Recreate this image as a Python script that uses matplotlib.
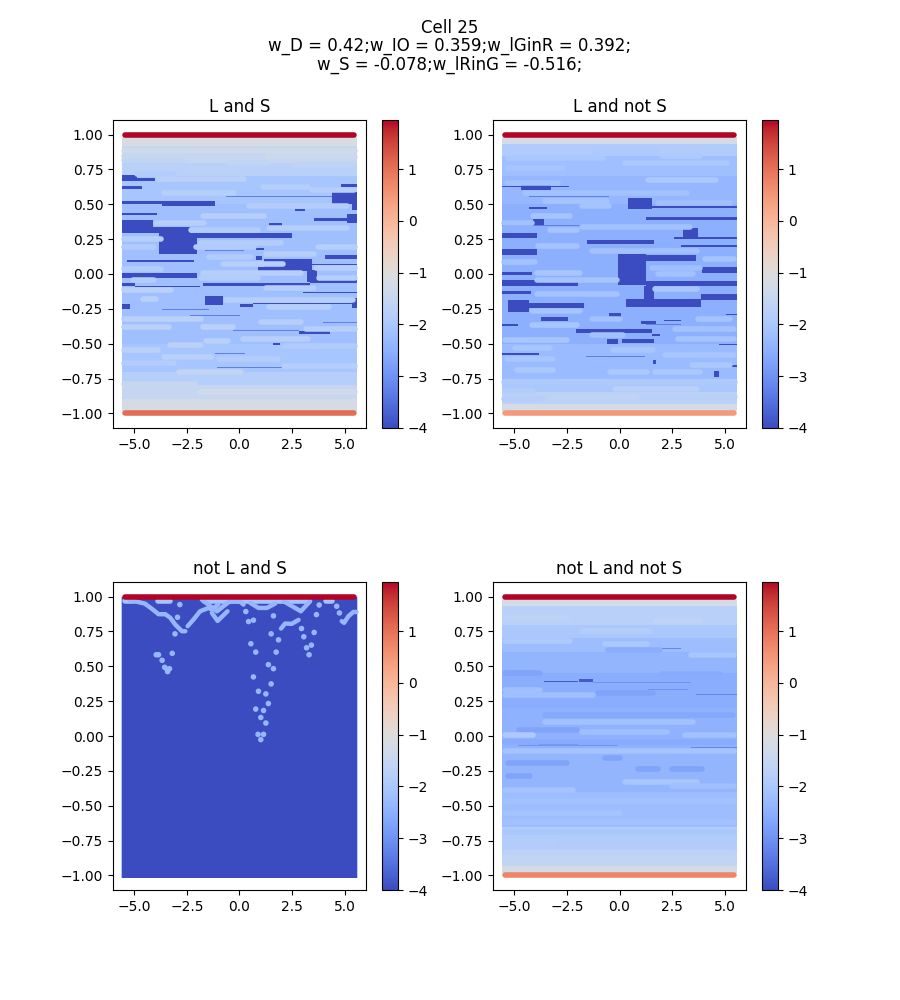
import numpy as np
import matplotlib
matplotlib.use("Agg")
import matplotlib.pyplot as plt
from matplotlib.cm import ScalarMappable
from matplotlib.colors import Normalize

# Values
title = "Cell 25\nw_D = 0.42;w_IO = 0.359;w_lGinR = 0.392;\nw_S = -0.078;w_lRinG = -0.516;"
panel_titles = ["L and S", "L and not S", "not L and S", "not L and not S"]
vmin, vmax = -4, 1.95
top_value = 1.93
bottom_values = [1.05, 0.46, -4, 0.76]
x_ticks = [-5.0, -2.5, 0.0, 2.5, 5.0]
y_ticks = [-1.0, -0.75, -0.5, -0.25, 0.0, 0.25, 0.5, 0.75, 1.0]
cbar_ticks = [-4, -3, -2, -1, 0, 1]

# background rows: y_high, y_low, value
p1_rows = [(0.98, 0.92, -1.15), (0.92, 0.8, -1.5), (0.8, 0.7, -1.75), (0.7, 0.5, -2.05), (0.5, -0.5, -2.2),
           (-0.5, -0.7, -2.05), (-0.7, -0.8, -1.8), (-0.8, -0.9, -1.5), (-0.9, -0.98, -1.2)]
p2_rows = [(0.98, 0.93, -1.25), (0.93, 0.85, -1.9), (0.85, 0.7, -2.2), (0.7, 0.5, -2.35), (0.5, -0.5, -2.5),
           (-0.5, -0.75, -2.3), (-0.75, -0.85, -2.0), (-0.85, -0.93, -1.7), (-0.93, -0.98, -1.25)]
p3_rows = [(1.0, -1.02, -4)]
p4_rows = [(0.98, 0.93, -1.25), (0.93, 0.8, -1.75), (0.8, 0.7, -2.0), (0.7, 0.6, -2.25), (0.6, 0.45, -2.4),
           (0.45, 0.2, -2.55), (0.2, -0.1, -2.45), (-0.1, -0.4, -2.4), (-0.4, -0.65, -2.25),
           (-0.65, -0.85, -1.85), (-0.85, -0.93, -1.6), (-0.93, -0.98, -1.25)]

# solid low areas: x0, x1, y_high, y_low
p1_dark = [(-5.58, -4.87, 0.71, 0.669), (-5.58, -4.03, 0.686, 0.669), (-5.58, -4.63, 0.629, 0.607),
           (4.8, 5.59, 0.648, 0.624), (4.38, 5.59, 0.588, 0.499), (5.32, 5.59, 0.499, 0.459),
           (-5.58, -3.68, 0.523, 0.499), (-3.68, -1.15, 0.526, 0.487), (-5.58, -3.92, 0.437, 0.423),
           (-5.58, -4.08, 0.387, 0.291), (-5.58, -2.34, 0.339, 0.291), (-3.84, -2.02, 0.291, 0.14),
           (-2.34, 2.48, 0.296, 0.255), (3.51, 5.59, 0.399, 0.38), (5.09, 5.59, 0.428, 0.363),
           (1.42, 2.01, 0.368, 0.344), (2.64, 3.11, 0.468, 0.454), (0.77, 1.14, 0.186, 0.171),
           (0.77, 1.06, 0.126, 0.104), (1.17, 3.43, 0.107, 0.051), (0.9, 3.43, 0.051, 0.023),
           (3.19, 3.66, 0.028, -0.056), (-1.71, 3.35, -0.063, -0.087), (3.35, 5.59, -0.044, -0.063),
           (4.06, 5.59, 0.135, 0.111), (3.43, 5.59, 0.075, 0.063), (-5.34, -2.18, 0.097, 0.085),
           (-5.58, -2.02, 0.008, -0.028), (-5.58, -4.94, -0.063, -0.087), (-4.94, -1.86, -0.083, -0.092),
           (3.03, 5.59, -0.126, -0.138), (-1.63, -0.76, -0.159, -0.219), (0.03, 0.66, -0.212, -0.236),
           (0.66, 5.59, -0.207, -0.217), (5.32, 5.59, -0.171, -0.243), (-5.58, -5.18, -0.214, -0.253),
           (2.8, 4.27, -0.408, -0.43), (1.61, 1.93, -0.497, -0.511)]
p2_dark = [(-4.68, -3.25, 0.638, 0.6), (-5.59, -2.39, 0.633, 0.624), (-4.28, -3.46, 0.478, 0.466),
           (0.38, 1.56, 0.543, 0.466), (1.56, 5.55, 0.487, 0.475), (1.25, 5.55, 0.411, 0.387),
           (-4.12, -3.57, 0.394, 0.344), (-5.59, -3.89, 0.296, 0.255), (-1.52, 1.64, 0.243, 0.214),
           (2.99, 3.7, 0.327, 0.267), (2.59, 5.55, 0.267, 0.253), (2.91, 5.55, 0.205, 0.193),
           (-5.59, -3.93, 0.176, 0.135), (-0.09, 1.25, 0.14, -0.08), (1.25, 3.62, 0.135, 0.095),
           (3.93, 5.55, 0.051, 0.004), (-5.59, -4.15, 0.016, -0.008), (-5.59, -1.99, -0.044, -0.085),
           (1.25, 5.55, -0.049, -0.085), (-5.59, -4.2, -0.123, -0.145), (1.17, 1.64, -0.085, -0.176),
           (0.3, 3.85, -0.176, -0.236), (3.85, 5.55, -0.145, -0.183), (-4.91, -1.67, -0.207, -0.243),
           (-5.31, -4.28, -0.188, -0.272), (-3.73, -2.46, -0.305, -0.334), (-0.49, 0.06, -0.279, -0.305),
           (1.01, 1.72, -0.339, -0.358), (2.12, 2.94, -0.327, -0.339), (5.07, 5.55, -0.286, -0.296),
           (-5.59, -4.83, -0.356, -0.372), (-2.07, 1.56, -0.396, -0.425), (1.56, 1.93, -0.428, -0.447),
           (-0.57, -0.09, -0.468, -0.504), (0.14, 1.64, -0.468, -0.495), (-5.59, -3.81, -0.569, -0.578),
           (4.72, 5.55, -0.499, -0.511), (1.6, 1.75, -0.619, -0.648), (4.49, 4.72, -0.698, -0.739),
           (5.28, 5.55, -0.655, -0.669)]
p3_dark = []
p4_dark = []

# longer runs of similar values: x0, x1, y, value
p1_runs = [(-5.58, -2.5, 0.818, -1.6), (-2.65, 0.19, 0.751, -1.7), (-0.6, 1.45, 0.799, -1.6), (2.48, 5.56, 0.782, -1.65),
           (-5.58, 5.58, 0.88, -1.35), (-5.58, 1.2, 0.845, -1.5), (1.2, 5.58, 0.84, -1.4), (-5.0, -3.0, 0.72, -1.85),
           (-4.0, 0.35, 0.679, -1.75), (3.3, 5.56, 0.602, -1.8), (0.98, 3.35, 0.626, -1.8), (-3.68, -0.13, 0.578, -1.8),
           (0.35, 5.24, 0.487, -1.85), (-1.86, 1.3, 0.416, -1.8), (-4.08, -1.55, 0.363, -1.8), (-2.42, 0.98, 0.315, -1.85),
           (1.3, 5.24, 0.327, -1.8), (-5.58, -3.6, 0.25, -1.8), (-1.94, 2.09, 0.226, -1.85), (-2.18, 0.82, 0.195, -1.9),
           (-5.58, -3.92, 0.195, -1.9), (1.14, 3.66, 0.147, -1.8), (3.59, 5.59, 0.195, -1.8), (-1.55, 0.66, 0.123, -1.9),
           (-0.92, 2.16, 0.075, -1.8), (-5.58, -3.6, 0.035, -1.85), (-1.86, 3.03, 0.004, -1.8), (-1.94, 0.98, -0.032, -1.85),
           (-5.18, -3.92, -0.044, -1.85), (3.5, 5.59, 0.044, -1.8), (3.66, 5.59, -0.028, -1.8), (1.14, 3.66, -0.104, -1.8),
           (-5.58, -3.13, -0.116, -1.75), (-0.76, 5.48, -0.183, -1.8), (-4.71, -3.84, -0.176, -1.75), (1.3, 4.38, -0.236, -1.8),
           (-5.58, -1.71, -0.32, -1.75), (0.9, 3.03, -0.346, -1.8), (-1.86, -0.21, -0.377, -1.75), (-5.58, -3.21, -0.377, -1.75),
           (3.03, 5.59, -0.392, -1.8), (0.03, 3.35, -0.468, -1.8), (-1.71, -0.44, -0.478, -1.75), (-3.44, -1.71, -0.511, -1.75),
           (-5.58, -3.76, -0.547, -1.75), (-3.68, -1.23, -0.595, -1.75), (-1.07, 1.93, -0.607, -1.85), (-2.97, 0.19, -0.703, -1.6),
           (2.0, 5.58, -0.52, -1.9), (-5.58, -3.0, -0.64, -1.85), (2.0, 5.58, -0.66, -1.8),
           (-5.58, -2.0, -0.79, -1.5), (-2.0, 5.58, -0.85, -1.35)]
p2_runs = [(-5.47, -2.78, 0.655, -2.15), (1.25, 4.72, 0.674, -2.0), (-4.6, 3.3, 0.578, -2.15), (-3.65, -0.49, 0.526, -2.1),
           (-1.91, -0.38, 0.487, -2.1), (1.72, 5.35, 0.507, -2.2), (-4.23, -2.23, 0.416, -2.1), (-5.59, -4.04, 0.363, -2.15),
           (-1.91, 3.46, 0.339, -2.15), (-3.41, -1.91, 0.315, -2.1), (-4.0, -1.91, 0.2, -2.1), (-1.44, 3.78, 0.164, -2.15),
           (3.93, 5.55, 0.111, -2.1), (-5.59, -3.89, 0.087, -2.15), (-4.03, -1.76, 0.004, -2.05), (1.41, 3.93, 0.04, -2.2),
           (-4.03, -0.02, -0.04, -2.1), (1.72, 3.62, 0.0, -2.15), (1.56, 3.78, -0.107, -2.05), (-4.03, -0.02, -0.14, -2.1),
           (-4.28, -1.76, -0.265, -2.1), (3.62, 5.35, -0.32, -2.1), (-1.44, 0.14, -0.325, -2.15), (-4.28, -1.91, -0.363, -2.05),
           (2.51, 5.55, -0.392, -2.15), (-1.44, 0.3, -0.44, -2.15), (2.67, 5.55, -0.468, -2.1), (-5.55, -2.39, -0.475, -2.05),
           (-5.07, -3.18, -0.528, -2.05), (-0.41, 1.72, -0.543, -2.05), (2.04, 5.55, -0.578, -2.05), (-5.47, -3.02, -0.607, -2.05),
           (3.3, 5.35, -0.655, -2.0), (-0.57, 1.41, -0.703, -2.0), (-4.99, -3.02, -0.691, -2.0), (1.56, 3.93, -0.703, -2.0),
           (-5.39, -0.65, 0.83, -2.0), (-1.28, 1.88, 0.878, -1.95), (1.88, 3.93, 0.849, -1.95), (0.14, 5.2, 0.799, -2.0),
           (-5.39, -2.54, 0.758, -2.05), (-5.55, -3.98, -0.837, -1.85), (-3.33, 0.93, -0.883, -1.65), (-0.33, 3.78, -0.828, -1.75),
           (-5.58, 5.58, -0.775, -1.95), (1.0, 5.58, -0.88, -1.75), (-5.58, -3.5, -0.9, -1.8)]
p3_runs = [(-5.55, -4.9, 0.972, -2.1), (-4.0, -3.2, 0.972, -2.1), (-1.8, 3.4, 0.972, -2.1), (4.0, 4.5, 0.972, -2.1)]
p4_runs = [(-5.55, -2.39, 0.847, -1.65), (1.56, 3.93, 0.823, -1.65), (-1.91, 1.56, 0.756, -1.85), (-5.55, -2.23, 0.679, -1.95),
           (3.28, 5.55, 0.578, -2.05), (-0.81, 1.41, 0.66, -2.0), (-0.65, 2.04, 0.619, -2.55), (-5.55, -3.65, 0.451, -2.7),
           (1.88, 4.88, 0.447, -2.6), (-1.12, 1.72, 0.308, -2.7), (-3.65, 5.5, 0.152, -2.65), (-4.91, -1.91, 0.044, -2.7),
           (-0.81, 0.14, -0.155, -2.7), (-5.39, -2.39, -0.195, -2.7), (0.77, 1.96, -0.236, -2.7), (2.35, 4.01, -0.236, -2.7),
           (-5.39, -4.12, -0.284, -2.7), (-5.55, -3.98, 0.008, -1.95), (-3.65, 3.62, 0.099, -2.15), (-1.91, 2.35, 0.028, -2.2),
           (2.98, 5.55, 0.004, -2.15), (-5.55, 5.55, -0.107, -2.1), (0.14, 3.78, -0.327, -2.05), (-5.55, -2.07, -0.387, -2.1),
           (2.35, 5.55, -0.356, -2.2), (-5.55, 5.55, -0.466, -2.15), (-5.55, 0.14, -0.554, -2.1), (-5.55, -1.12, 0.296, -2.2),
           (-5.55, -3.65, 0.327, -2.2), (-3.02, 5.55, -0.758, -1.9), (-5.55, 5.55, -0.83, -1.7),
           (-5.55, 5.55, -0.045, -2.6), (-5.55, 5.55, 0.225, -2.55), (-5.55, 5.55, -0.62, -2.15), (-5.55, 5.55, -0.69, -2.0)]

# thin lines on top: x0, x1, y_high, y_low, value
p1_thin = [(-3.68, -1.47, -0.253, -0.26), (-2.34, 0.03, -0.296, -0.303), (-0.32, 2.8, -0.404, -0.411),
           (-1.15, 0.27, -0.566, -0.574), (-1.07, 2.16, -0.665, -0.672), (3.98, 5.55, -0.346, -0.353),
           (-0.63, 4.38, 0.559, 0.552), (1.61, 4.38, 0.468, 0.463), (-1.62, 0.19, 0.169, 0.164)]
p2_thin = [(-4.28, -0.5, 0.56, 0.555), (-1.7, 0.4, 0.44, 0.435), (-5.55, -1.3, 0.352, 0.348),
           (1.25, 2.9, -0.36, -0.365), (-1.6, 1.2, -0.59, -0.595), (-5.0, -2.0, 0.13, 0.127)]
p3_thin = [(-5.6, -5.56, 1.0, -1.02, -2.0), (5.56, 5.6, 1.0, -1.02, -1.8)]
p4_thin = [(-3.57, -1.99, 0.394, 0.387, -3.8), (-1.91, -1.28, 0.408, 0.387, -3.8), (-3.84, -1.99, -0.054, -0.061, -3.8),
           (1.96, 2.91, 0.631, 0.624, -3.2), (-1.28, 3.38, 0.387, 0.382, -3.0), (1.33, 3.25, 0.337, 0.332, -3.0),
           (3.62, 5.55, 0.298, 0.293, -3.2), (-4.83, -0.09, -0.066, -0.071, -3.0), (3.38, 5.55, -0.08, -0.087, -3.2),
           (-5.55, 5.55, -0.499, -0.504, -3.0)]

# not L and S: ridges and single points
p3_ridges = [
    [(-5.2, 0.974), (-4.88, 0.964), (-4.49, 0.95), (-4.15, 0.912), (-3.84, 0.874), (-3.52, 0.874), (-3.28, 0.848), (-3.05, 0.8), (-2.73, 0.752), (-2.57, 0.752)],
    [(-2.46, 0.788), (-2.18, 0.836), (-1.87, 0.895), (-1.47, 0.919), (-1.31, 0.907), (-1.0, 0.945)],
    [(-1.31, 0.883), (-1.04, 0.826), (-0.57, 0.895)],
    [(-1.79, 0.979), (-1.07, 0.895), (-0.52, 0.96), (-0.05, 0.974), (0.19, 0.943)],
    [(1.97, 0.771), (2.16, 0.807), (2.48, 0.805), (2.8, 0.833)],
    [(4.85, 0.824), (4.96, 0.812), (5.17, 0.86), (5.4, 0.89), (5.55, 0.89)],
    [(0.51, 0.955), (0.9, 0.919), (1.3, 0.919), (1.69, 0.95)],
    [(2.09, 0.967), (2.91, 0.895), (3.35, 0.967)],
]
p3_points_x = [-3.06, -2.94, -3.19, -3.84, -3.95, -3.67, -3.55, -3.32, -3.41, -3.44, 0.54, 0.77, 0.66, 0.9, 0.77, 1.01,
               1.25, 0.88, 1.14, 1.01, 1.14, 1.37, 1.25, 1.5, 1.61, 1.37, 1.74, 1.85, 1.5, 1.61, 0.43, 0.66, 0.3, 2.94,
               3.05, 3.18, 3.41, 3.3, 3.54, 3.65, 3.78, 4.61, 4.74, -2.83]
p3_points_y = [0.733, 0.852, 0.593, 0.583, 0.583, 0.543, 0.493, 0.483, 0.462, 0.479, 0.662, 0.602, 0.424, 0.321, 0.193, 0.133,
               0.093, 0.012, 0.012, -0.026, 0.183, 0.233, 0.302, 0.374, 0.483, 0.512, 0.602, 0.69, 0.733, 0.862, 0.821, 0.831, 0.893, 0.771,
               0.712, 0.633, 0.652, 0.583, 0.743, 0.871, 0.94, 0.931, 0.883, 0.943]
p3_point_value = -2.35

rows = [p1_rows, p2_rows, p3_rows, p4_rows]
darks = [p1_dark, p2_dark, p3_dark, p4_dark]
runs = [p1_runs, p2_runs, p3_runs, p4_runs]
thins = [p1_thin, p2_thin, p3_thin, p4_thin]

cmap = plt.get_cmap("coolwarm")
norm = Normalize(vmin, vmax)
stroke = 4.0  # same width as the scatter dots

fig = plt.figure(figsize=(9, 10), dpi=100)
fig.suptitle(title, fontsize=12, y=0.981, linespacing=1.0)

lefts = [113, 493, 113, 493]
tops = [120, 120, 582, 582]

for i in range(4):
    ax = fig.add_axes([lefts[i] / 900, 1 - (tops[i] + 308) / 1000, 253 / 900, 308 / 1000])
    cax = fig.add_axes([(lefts[i] + 269) / 900, 1 - (tops[i] + 308) / 1000, 16 / 900, 308 / 1000])

    for y0, y1, v in rows[i]:
        ax.fill_between([-5.58, 5.58], y0, y1, color=cmap(norm(v)), lw=0)
    for x0, x1, y0, y1 in darks[i]:
        ax.fill_between([x0, x1], y0, y1, color=cmap(norm(-4)), lw=0)
    for x0, x1, y, v in runs[i]:
        ax.plot([x0 + 0.12, x1 - 0.12], [y, y], color=cmap(norm(v)), lw=stroke, solid_capstyle="round")
    for t in thins[i]:
        v = t[4] if len(t) > 4 else -3.3
        ax.fill_between([t[0], t[1]], t[2], t[3], color=cmap(norm(v)), lw=0)

    if i == 2:
        for ridge in p3_ridges:
            rx, ry = zip(*ridge)
            ax.plot(rx, ry, color=cmap(norm(p3_point_value)), lw=3.2, solid_capstyle="round")
        ax.scatter(p3_points_x, p3_points_y, c=[p3_point_value] * len(p3_points_x), cmap=cmap, norm=norm, s=16, linewidths=0)

    ax.plot([-5.45, 5.45], [1, 1], color=cmap(norm(top_value)), lw=stroke, solid_capstyle="round")
    if bottom_values[i] > vmin:
        ax.plot([-5.45, 5.45], [-1, -1], color=cmap(norm(bottom_values[i])), lw=stroke, solid_capstyle="round")

    ax.set_xlim(-6, 6)
    ax.set_ylim(-1.105, 1.105)
    ax.set_xticks(x_ticks)
    ax.set_yticks(y_ticks)
    ax.set_title(panel_titles[i])
    fig.colorbar(ScalarMappable(norm=norm, cmap=cmap), cax=cax, ticks=cbar_ticks)

plt.savefig("out.png", dpi=100)
